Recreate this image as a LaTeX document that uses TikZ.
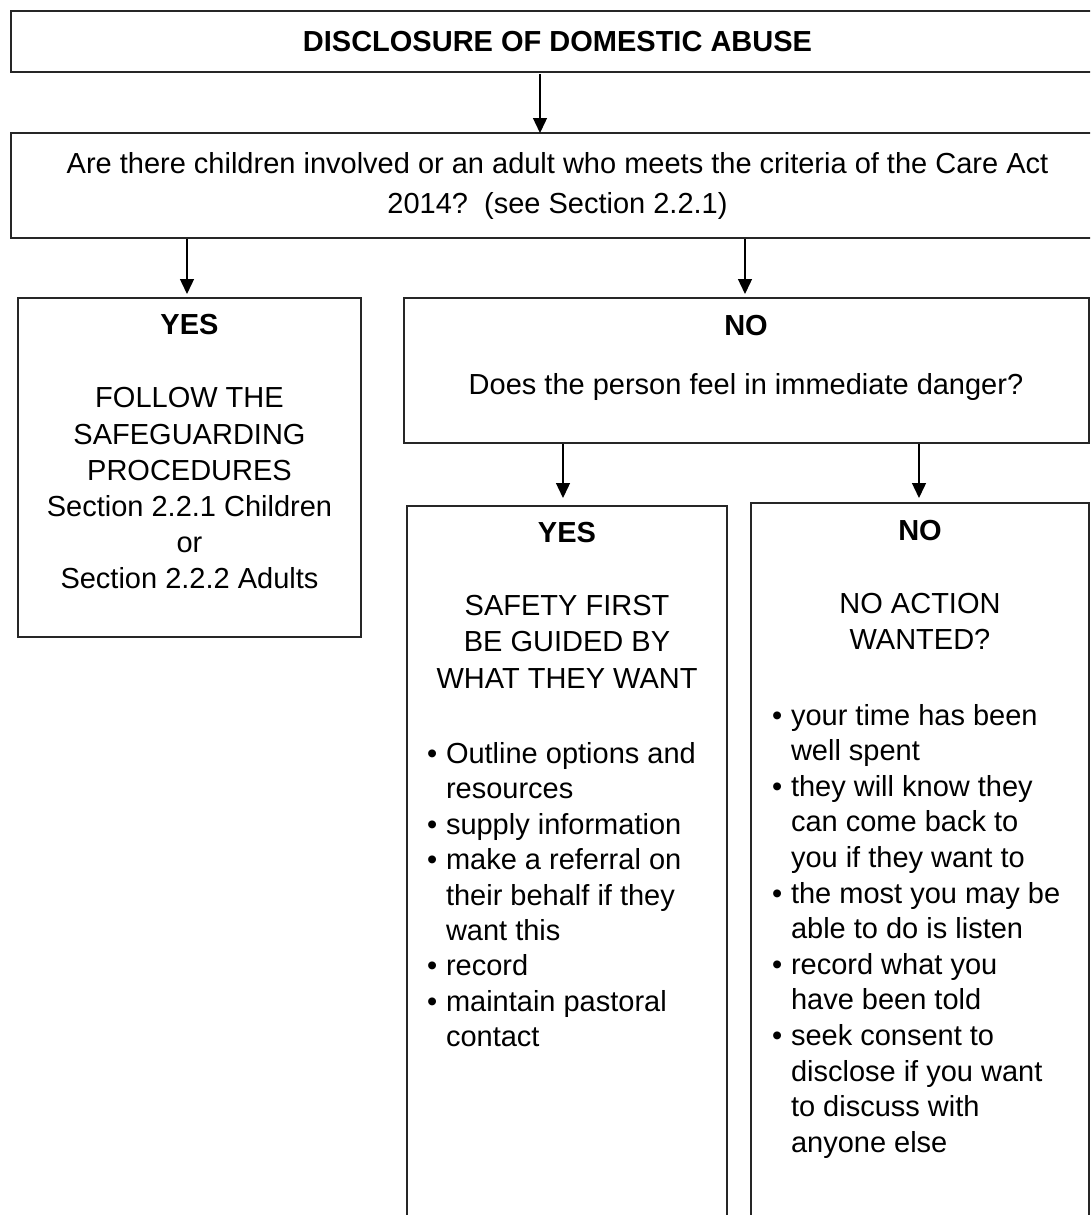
\documentclass[tikz,border=0pt]{standalone}
\usepackage{fontspec}
\setmainfont{Liberation Sans}
\usetikzlibrary{arrows.meta}
% bullet with hanging indent for the action lists
\newcommand\bitem{\makebox[19pt][l]{\textbullet}}
\newcommand\bcont{\hspace*{19pt}}
\begin{document}
\begin{tikzpicture}[x=1pt,y=-1pt,
  box/.style={draw=black!85, line width=1.5pt, anchor=north west, inner sep=0pt, outer sep=0pt},
  txt/.style={inner sep=0pt, outer sep=0pt, font=\fontsize{29}{36.2}\selectfont},
  arr/.style={draw=black, line width=1.4pt, -{Triangle[length=15pt,width=14pt]}}
]
\useasboundingbox (0,0) rectangle (1090,1215);
\clip (0,0) rectangle (1090,1215);

% boxes
\node[box, minimum width=1093pt, minimum height=61pt,
      font=\fontsize{29}{36}\selectfont\bfseries] (top) at (11,11)
  {DISCLOSURE OF DOMESTIC ABUSE};
\node[box, minimum width=1093pt, minimum height=105pt, align=center,
      font=\fontsize{29}{40}\selectfont] (q) at (11,133)
  {Are there children involved or an adult who meets the criteria of the Care Act\\
   2014?\ \ (see Section 2.2.1)};
\node[box, minimum width=343pt, minimum height=339pt] (yes1) at (18,298) {};
\node[box, minimum width=685pt, minimum height=145pt] (no1) at (404,298) {};
\node[box, minimum width=320pt, minimum height=734pt] (yes2) at (407,506) {};
\node[box, minimum width=338pt, minimum height=737pt] (no2) at (751,503) {};

% box texts
\node[txt, anchor=north, align=center] (yes1t) at (189.5,314.5)
  {\textbf{YES}\\[37pt]FOLLOW THE\\SAFEGUARDING\\PROCEDURES\\
   Section 2.2.1 Children\\or\\Section 2.2.2 Adults};
\node[txt, anchor=north, align=center] (no1t) at (746,314.8)
  {\textbf{NO}\\[23.2pt]Does the person feel in immediate danger?};
\node[txt, anchor=north, align=center] (yes2t) at (567,522.2)
  {\textbf{YES}\\[37.1pt]SAFETY FIRST\\BE GUIDED BY\\WHAT THEY WANT};
\node[txt, anchor=north west, align=left,
      font=\fontsize{29}{35.4}\selectfont] (yes2l) at (427,742.5)
  {\bitem Outline options and\\
   \bcont resources\\
   \bitem supply information\\
   \bitem make a referral on\\
   \bcont their behalf if they\\
   \bcont want this\\
   \bitem record\\
   \bitem maintain pastoral\\
   \bcont contact};
\node[txt, anchor=north, align=center] (no2t) at (920,520.5)
  {\textbf{NO}\\[36.5pt]NO ACTION\\WANTED?};
\node[txt, anchor=north west, align=left,
      font=\fontsize{29}{35.6}\selectfont] (no2l) at (772,704)
  {\bitem your time has been\\
   \bcont well spent\\
   \bitem they will know they\\
   \bcont can come back to\\
   \bcont you if they want to\\
   \bitem the most you may be\\
   \bcont able to do is listen\\
   \bitem record what you\\
   \bcont have been told\\
   \bitem seek consent to\\
   \bcont disclose if you want\\
   \bcont to discuss with\\
   \bcont anyone else};

% connector start points on the lower edges of the upper boxes
\coordinate (c1) at (yes1.north |- q.south);
\coordinate (c2) at (no1.north |- q.south);
\coordinate (c3) at (yes2.north |- no1.south);
\coordinate (c4) at (no2.north |- no1.south);

% connectors
\draw[arr, shorten <=2pt] ([xshift=-17.5pt]top.south) -- ([xshift=-17.5pt]q.north);
\draw[arr, shorten <=1pt, shorten >=4pt] ([xshift=-2.5pt]c1) -- ([xshift=-2.5pt]yes1.north);
\draw[arr, shorten <=1pt, shorten >=4pt] ([xshift=-1.5pt]c2) -- ([xshift=-1.5pt]no1.north);
\draw[arr, shorten <=1pt, shorten >=8pt] ([xshift=-4pt]c3) -- ([xshift=-4pt]yes2.north);
\draw[arr, shorten <=1pt, shorten >=5pt] ([xshift=-1pt]c4) -- ([xshift=-1pt]no2.north);
\end{tikzpicture}
\end{document}
